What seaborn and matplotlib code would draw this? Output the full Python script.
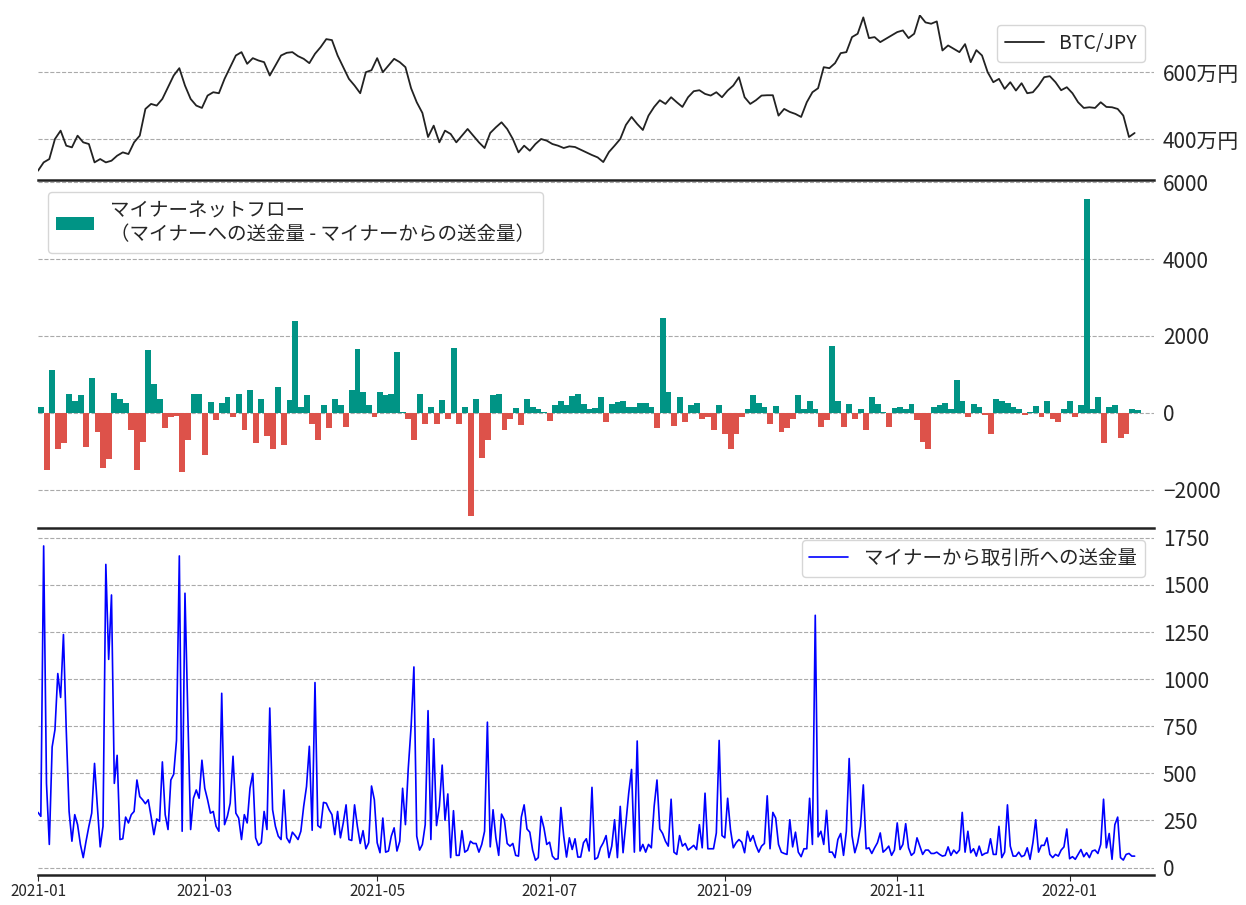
import pandas as pd
import numpy as np
import matplotlib
matplotlib.use("Agg")
import matplotlib.pyplot as plt
import matplotlib.dates as mdates
import matplotlib.ticker as mticker
import seaborn as sns

# BTC/JPY (万円), every 2 days from 2021-01-01
btcPrice = [305, 330, 340, 400, 425, 380, 375, 410, 390, 385, 330, 340, 330, 335, 350, 360, 355, 390, 410, 490,
            505, 500, 520, 555, 590, 612, 560, 520, 500, 493, 530, 540, 537, 580, 615, 650, 660, 625, 642, 635,
            630, 590, 620, 650, 658, 660, 648, 640, 627, 655, 675, 699, 696, 650, 615, 580, 560, 537, 600, 606,
            642, 600, 620, 640, 630, 615, 552, 510, 478, 406, 440, 390, 425, 415, 390, 410, 430, 410, 390, 373,
            418, 435, 450, 430, 400, 360, 380, 365, 385, 400, 395, 385, 380, 373, 378, 376, 368, 360, 352, 345,
            331, 361, 380, 400, 442, 466, 445, 427, 470, 496, 516, 505, 525, 510, 496, 525, 543, 546, 535, 530,
            540, 525, 545, 560, 585, 525, 505, 516, 530, 531, 531, 470, 490, 481, 475, 466, 510, 540, 552, 615,
            612, 627, 657, 660, 705, 715, 764, 702, 705, 690, 700, 710, 720, 725, 702, 715, 770, 749, 745, 752,
            665, 680, 670, 660, 684, 630, 666, 650, 600, 570, 580, 550, 570, 545, 567, 537, 540, 560, 585, 588,
            570, 546, 555, 537, 510, 493, 495, 493, 510, 496, 495, 490, 470, 406, 418]

# miner netflow (BTC), every 2 days
netFlow = [150, -1500, 1100, -950, -800, 500, 300, 450, -900, 900, -500, -1450, -1200, 520, 350, 250, -450, -1500, -750, 1630,
           750, 350, -400, -100, -80, -1550, -700, 500, 500, -1100, 280, -200, 250, 400, -100, 480, -450, 600, -800, 370,
           -600, -950, 680, -830, 330, 2400, 150, 470, -300, -700, 200, -400, 350, 200, -380, 600, 1650, 550, 200, -100,
           550, 450, 480, 1570, 30, -150, -700, 500, -300, 150, -300, 330, -150, 1680, -300, 150, -2700, 350, -1180, -700,
           450, 500, -450, -150, 130, -330, 350, 150, 100, 30, -220, 200, 300, 200, 430, 480, 220, 100, 130, 420,
           -250, 220, 280, 300, 150, 150, 250, 250, 150, -400, 2470, 550, -350, 400, -230, 200, 250, -150, -100, -450,
           200, -550, -950, -550, -100, 100, 450, 250, 150, -300, 180, -500, -400, -150, 450, 100, 300, 100, -380, -200,
           1750, 300, -380, 220, -150, 100, -450, 400, 220, 20, -380, 120, 150, 100, 220, -180, -750, -950, 150, 200,
           250, 100, 850, 300, -100, 220, 150, -50, -550, 350, 300, 250, 150, 100, -70, 30, 180, -100, 300, -150,
           -250, 100, 300, -100, 200, 5570, 100, 400, -800, 150, 200, -650, -550, 100, 80]

# miner -> exchange flow (BTC), daily
toExchange = [293, 272, 1707, 447, 123, 640, 732, 1030, 903, 1237, 728, 298, 140, 281, 228, 123, 53, 140, 219, 289,
              553, 325, 110, 219, 1609, 1105, 1447, 447, 596, 149, 153, 268, 237, 281, 298, 465, 377, 360, 339, 360,
              272, 175, 258, 246, 561, 281, 202, 465, 495, 675, 1654, 193, 1456, 816, 202, 368, 412, 368, 570, 421,
              360, 289, 298, 219, 193, 925, 228, 272, 342, 591, 289, 263, 149, 281, 237, 421, 500, 158, 118, 132,
              298, 202, 847, 307, 219, 167, 149, 412, 158, 132, 188, 170, 149, 193, 325, 430, 644, 198, 982, 223,
              211, 346, 342, 307, 281, 175, 298, 158, 237, 333, 149, 144, 333, 219, 128, 196, 100, 132, 433, 360,
              132, 79, 263, 82, 88, 167, 211, 88, 140, 421, 228, 526, 746, 1065, 167, 93, 123, 228, 833, 149,
              684, 223, 325, 544, 251, 391, 53, 302, 65, 65, 196, 82, 93, 140, 128, 128, 82, 123, 193, 772,
              110, 307, 158, 65, 284, 254, 128, 114, 128, 65, 61, 268, 333, 205, 188, 93, 39, 53, 272, 211,
              123, 135, 61, 44, 47, 319, 167, 56, 158, 96, 153, 56, 56, 132, 153, 88,
              426, 44, 53, 105, 132, 170, 53, 114, 254, 53, 325, 79, 237, 395, 521, 82, 672, 88, 123, 82,
              123, 105, 325, 465, 205, 181, 140, 114, 363, 82, 70, 170, 114, 128, 93, 105, 118, 96, 228, 105,
              395, 100, 100, 100, 184, 675, 170, 158, 368, 202, 105, 132, 149, 135, 79, 193, 140, 170, 118, 82,
              114, 128, 381, 100, 293, 263, 123, 82, 75, 70, 254, 110, 188, 82, 58, 100, 100, 368, 123, 1339,
              163, 193, 123, 304, 82, 82, 53, 149, 181, 65, 193, 579, 170, 79, 132, 219, 439, 100, 105, 75,
              105, 132, 184, 82, 96, 114, 65, 93, 237, 96, 123, 233, 105, 65, 79, 158, 114, 70, 93, 93,
              75, 75, 82, 70, 61, 65, 110, 65, 93, 75, 93, 293, 82, 193, 79, 100, 61, 114, 65, 75,
              79, 153, 70, 70, 219, 53, 82, 333, 114, 61, 61, 82, 58, 65, 105, 44, 132, 254, 82, 118,
              118, 158, 70, 53, 70, 61, 93, 110, 205, 47, 58, 44, 70, 96, 58, 79, 53, 88, 93, 75,
              123, 363, 105, 181, 44, 228, 268, 53, 40, 70, 75, 61, 61]

priceDates = pd.date_range("2021-01-01", periods=len(btcPrice), freq="2D")
flowDates = pd.date_range("2021-01-01", periods=len(netFlow), freq="2D")
exDates = pd.date_range("2021-01-01", periods=len(toExchange), freq="D")

sns.set_style("white")
plt.rcParams['font.family'] = ['Noto Sans CJK JP', 'DejaVu Sans']

fig = plt.figure(figsize=(12.46, 9.05), dpi=100)
axTop = fig.add_axes([0.0305, 0.801, 0.896, 0.182])
axMid = fig.add_axes([0.0305, 0.4166, 0.896, 0.382], sharex=axTop)
axBot = fig.add_axes([0.0305, 0.033, 0.896, 0.381], sharex=axTop)

priceDf = pd.DataFrame({"date": priceDates, "price": btcPrice})
sns.lineplot(data=priceDf, x="date", y="price", ax=axTop, color="#222222", lw=1.3, label="BTC/JPY")
axTop.set_ylim(277, 770)
axTop.set_yticks([400, 600])
axTop.yaxis.set_major_formatter(mticker.FuncFormatter(lambda v, p: f"{int(v)}万円"))

netArr = np.array(netFlow)
pos = np.where(netArr > 0, netArr, 0)
neg = np.where(netArr < 0, netArr, 0)
axMid.bar(flowDates, pos, width=2.1, align="edge", color="#009485", linewidth=0,
          label="マイナーネットフロー\n（マイナーへの送金量 - マイナーからの送金量）")
axMid.bar(flowDates, neg, width=2.1, align="edge", color="#dd524a", linewidth=0)
axMid.set_ylim(-3000, 6000)
axMid.set_yticks([-2000, 0, 2000, 4000, 6000])

exDf = pd.DataFrame({"date": exDates, "amount": toExchange})
sns.lineplot(data=exDf, x="date", y="amount", ax=axBot, color="blue", lw=1.2, label="マイナーから取引所への送金量")
axBot.set_ylim(-40, 1790)
axBot.set_yticks(np.arange(0, 1751, 250))

for ax in (axTop, axMid, axBot):
    ax.set_xlabel("")
    ax.set_ylabel("")
    ax.yaxis.tick_right()
    ax.tick_params(axis="y", labelsize=15, length=0, pad=6)
    ax.grid(axis="y", linestyle="--", color="#aaaaaa", lw=0.8)
    for s in ("left", "right", "top"):
        ax.spines[s].set_visible(False)
    ax.spines["bottom"].set_linewidth(1.8)
    ax.spines["bottom"].set_color("#222222")

for ax in (axTop, axMid):
    ax.tick_params(axis="x", bottom=False, labelbottom=False)

axBot.set_xlim(pd.Timestamp("2021-01-01"), pd.Timestamp("2021-01-01") + pd.Timedelta(days=395))
axBot.xaxis.set_major_locator(mdates.MonthLocator(bymonth=[1, 3, 5, 7, 9, 11]))
axBot.xaxis.set_major_formatter(mdates.DateFormatter("%Y-%m"))
axBot.tick_params(axis="x", labelsize=11, bottom=True, length=4, pad=2)

axTop.legend(loc="upper right", fontsize=14)
axMid.legend(loc="upper left", fontsize=14)
axBot.legend(loc="upper right", fontsize=14)

fig.savefig("out.png", dpi=100)
